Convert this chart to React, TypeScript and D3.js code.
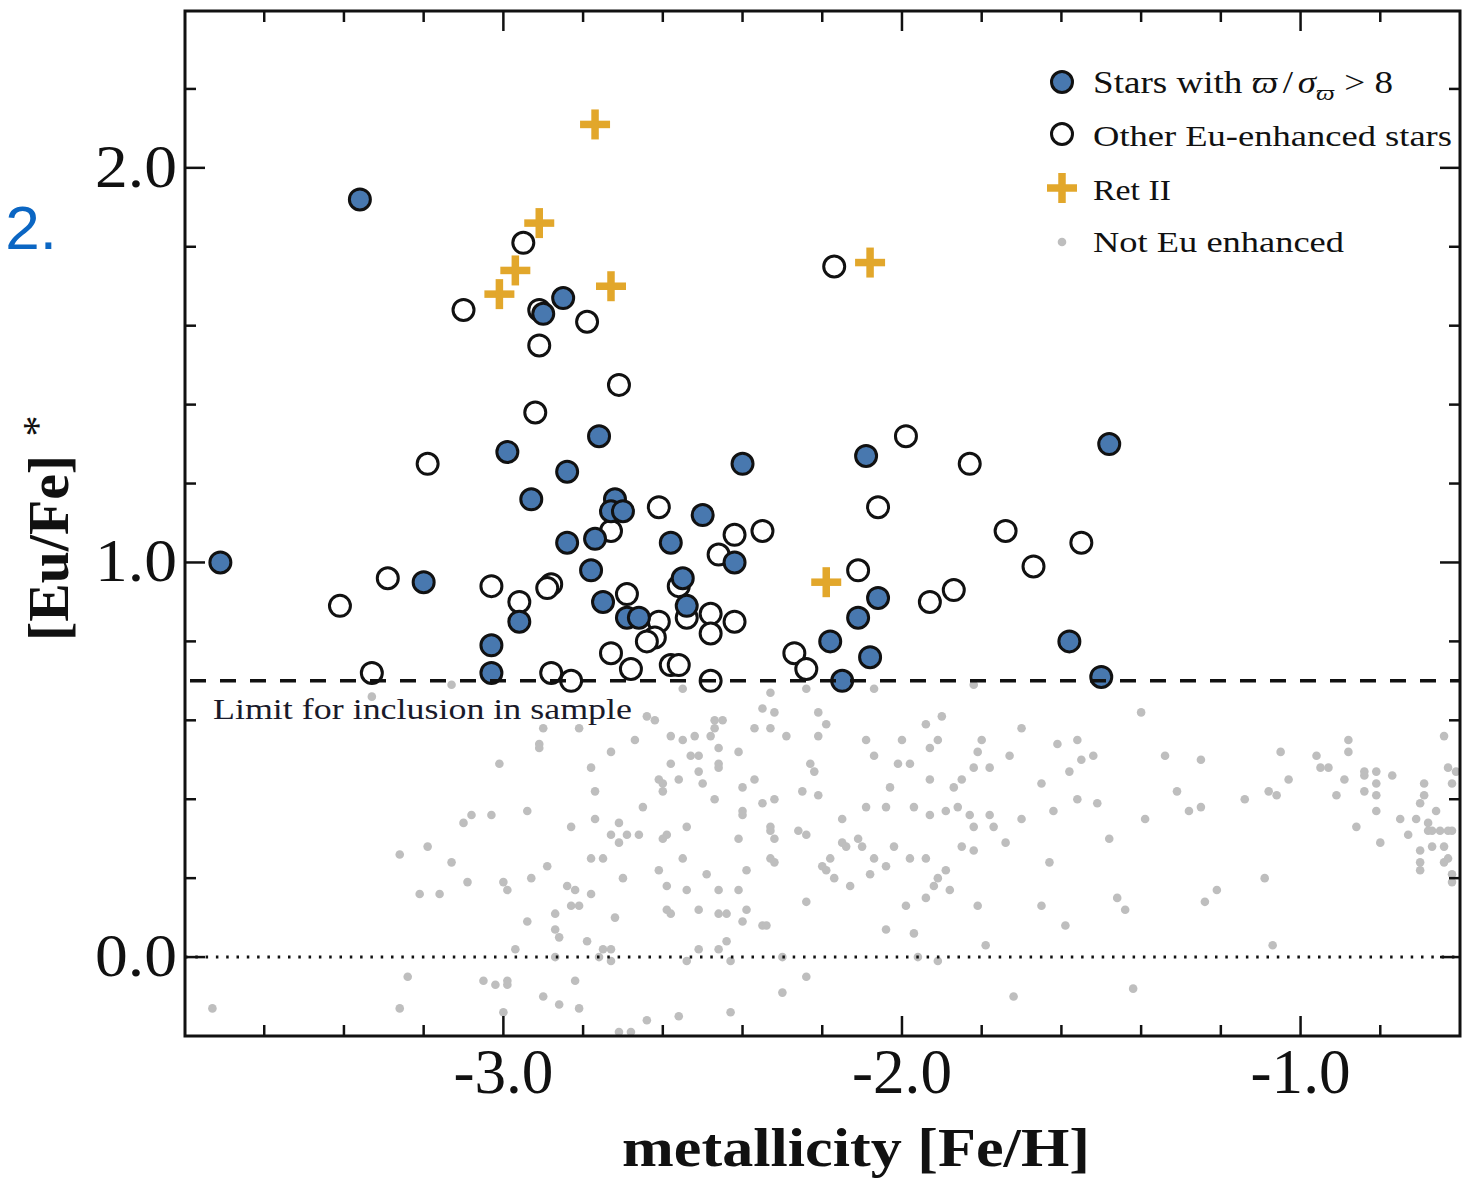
import React, { useEffect } from 'react';
import * as d3 from 'd3';

type Pt = [number, number];

// [Fe/H], [Eu/Fe]*
const blueStars: Pt[] = [
  [-3.71, 1.0], [-3.36, 1.92], [-3.2, 0.95], [-2.99, 1.28], [-2.93, 1.16], [-2.96, 0.85],
  [-3.03, 0.79], [-3.03, 0.72], [-2.9, 1.63], [-2.85, 1.67], [-2.84, 1.23], [-2.84, 1.05],
  [-2.76, 1.32], [-2.77, 1.06], [-2.78, 0.98], [-2.75, 0.9], [-2.72, 1.16], [-2.73, 1.13],
  [-2.7, 1.13], [-2.69, 0.86], [-2.66, 0.86], [-2.58, 1.05], [-2.55, 0.96], [-2.54, 0.89],
  [-2.5, 1.12], [-2.42, 1.0], [-2.4, 1.25], [-2.18, 0.8], [-2.15, 0.7], [-2.11, 0.86],
  [-2.08, 0.76], [-2.09, 1.27], [-2.06, 0.91], [-1.58, 0.8], [-1.5, 0.71], [-1.48, 1.3],
];

const otherStars: Pt[] = [
  [-2.95, 1.81], [-3.1, 1.64], [-2.91, 1.64], [-2.79, 1.61], [-2.91, 1.55], [-2.71, 1.45],
  [-2.92, 1.38], [-3.19, 1.25], [-3.29, 0.96], [-3.41, 0.89], [-3.33, 0.72], [-3.03, 0.94],
  [-2.96, 0.9], [-2.88, 0.945], [-2.89, 0.935], [-2.88, 0.72], [-2.83, 0.7], [-2.73, 1.08],
  [-2.69, 0.92], [-2.73, 0.77], [-2.68, 0.73], [-2.61, 1.14], [-2.61, 0.85], [-2.62, 0.81],
  [-2.64, 0.8], [-2.58, 0.74], [-2.56, 0.74], [-2.56, 0.94], [-2.54, 0.86], [-2.48, 0.87],
  [-2.48, 0.82], [-2.48, 0.7], [-2.46, 1.02], [-2.42, 1.07], [-2.42, 0.85], [-2.35, 1.08],
  [-2.27, 0.77], [-2.24, 0.73], [-2.17, 1.75], [-2.11, 0.98], [-2.06, 1.14], [-1.99, 1.32],
  [-1.93, 0.9], [-1.87, 0.93], [-1.83, 1.25], [-1.74, 1.08], [-1.67, 0.99], [-1.55, 1.05],
];

const retII: Pt[] = [
  [-2.77, 2.11], [-2.91, 1.86], [-2.97, 1.74], [-3.01, 1.68], [-2.73, 1.7], [-2.08, 1.76], [-2.19, 0.95],
];

const notEnhanced: Pt[] = [
  [-3.13, 0.69], [-3.33, 0.66], [-2.9, 0.58], [-2.81, 0.58], [-2.64, 0.61], [-2.62, 0.6],
  [-2.91, 0.54], [-2.91, 0.53], [-2.67, 0.55], [-2.73, 0.52], [-2.58, 0.56], [-3.01, 0.49],
  [-2.78, 0.48], [-2.58, 0.49], [-2.61, 0.45], [-2.6, 0.44], [-2.6, 0.42], [-2.77, 0.42],
  [-2.56, 0.45], [-2.65, 0.38], [-3.08, 0.36], [-3.1, 0.34], [-3.03, 0.36], [-2.94, 0.37],
  [-2.77, 0.35], [-2.83, 0.33], [-2.71, 0.34], [-2.73, 0.31], [-2.71, 0.29], [-2.69, 0.31],
  [-2.66, 0.31], [-2.6, 0.3], [-2.59, 0.31], [-3.19, 0.28], [-3.26, 0.26], [-3.13, 0.24],
  [-2.78, 0.25], [-2.75, 0.25], [-2.89, 0.23], [-2.61, 0.22], [-3.09, 0.19], [-3.0, 0.19],
  [-2.99, 0.17], [-2.93, 0.2], [-2.7, 0.2], [-3.21, 0.16], [-3.16, 0.16], [-2.84, 0.18],
  [-2.82, 0.17], [-2.78, 0.16], [-2.59, 0.18], [-2.83, 0.13], [-2.81, 0.13], [-2.87, 0.11],
  [-2.94, 0.09], [-2.72, 0.1], [-2.59, 0.12], [-2.58, 0.11], [-2.87, 0.07], [-2.86, 0.05],
  [-2.79, 0.04], [-2.97, 0.02], [-2.75, 0.02], [-2.73, 0.02], [-2.73, -0.01], [-2.76, 0.0],
  [-2.87, 0.0], [-3.24, -0.05], [-3.05, -0.06], [-3.02, -0.07], [-2.99, -0.06], [-2.99, -0.07],
  [-2.82, -0.06], [-2.9, -0.1], [-2.86, -0.12], [-2.81, -0.13], [-3.73, -0.13], [-3.26, -0.13],
  [-3.0, -0.14], [-2.64, -0.16], [-2.71, -0.19], [-2.68, -0.19], [-2.56, -0.15],
  [-2.55, 0.68], [-2.24, 0.68], [-2.07, 0.68], [-1.82, 0.69], [-2.33, 0.67], [-2.35, 0.63],
  [-2.32, 0.62], [-2.47, 0.6], [-2.45, 0.6], [-2.21, 0.62], [-2.19, 0.59], [-1.9, 0.61],
  [-1.94, 0.59], [-1.7, 0.58], [-2.37, 0.58], [-2.33, 0.58], [-2.52, 0.56], [-2.55, 0.55],
  [-2.48, 0.56], [-2.47, 0.58], [-2.29, 0.56], [-2.21, 0.56], [-2.09, 0.55], [-2.0, 0.55],
  [-1.91, 0.55], [-1.93, 0.53], [-1.8, 0.55], [-1.81, 0.52], [-1.61, 0.54], [-1.56, 0.55],
  [-2.46, 0.53], [-2.41, 0.52], [-2.07, 0.51], [-1.73, 0.51], [-1.55, 0.5], [-1.52, 0.51],
  [-2.53, 0.51], [-2.51, 0.51], [-2.46, 0.49], [-2.46, 0.48], [-2.23, 0.49], [-2.22, 0.47],
  [-2.01, 0.49], [-1.98, 0.49], [-1.82, 0.48], [-1.78, 0.48], [-2.51, 0.47], [-1.58, 0.47],
  [-2.37, 0.45], [-2.5, 0.44], [-1.93, 0.45], [-1.85, 0.45], [-1.87, 0.43], [-1.65, 0.44],
  [-2.4, 0.43], [-2.03, 0.43], [-2.25, 0.42], [-2.21, 0.41], [-2.47, 0.4], [-1.56, 0.4],
  [-1.51, 0.39], [-2.32, 0.4], [-2.35, 0.39], [-2.09, 0.38], [-2.04, 0.38], [-1.97, 0.38],
  [-2.4, 0.37], [-2.4, 0.36], [-1.89, 0.37], [-1.86, 0.38], [-1.83, 0.36], [-1.78, 0.36],
  [-1.62, 0.37], [-1.93, 0.36], [-1.7, 0.35], [-2.15, 0.35], [-2.54, 0.33], [-2.33, 0.33],
  [-2.33, 0.32], [-2.32, 0.3], [-1.82, 0.33], [-1.77, 0.33], [-2.26, 0.32], [-2.24, 0.31],
  [-2.41, 0.3], [-1.48, 0.3], [-2.15, 0.29], [-2.14, 0.28], [-2.11, 0.3], [-2.1, 0.28],
  [-2.02, 0.28], [-1.85, 0.28], [-1.82, 0.27], [-1.74, 0.29], [-2.55, 0.25], [-2.33, 0.25],
  [-2.32, 0.24], [-2.18, 0.25], [-2.2, 0.23], [-2.19, 0.22], [-2.07, 0.25], [-1.98, 0.25],
  [-1.94, 0.25], [-1.63, 0.24], [-2.39, 0.22], [-2.49, 0.21], [-2.17, 0.2], [-2.08, 0.21],
  [-2.04, 0.23], [-1.89, 0.22], [-1.91, 0.2], [-1.92, 0.18], [-2.13, 0.18], [-2.54, 0.17],
  [-2.46, 0.17], [-2.41, 0.17], [-1.88, 0.17], [-1.94, 0.15], [-1.46, 0.15], [-1.44, 0.12],
  [-2.24, 0.14], [-1.99, 0.13], [-1.81, 0.13], [-1.65, 0.13], [-2.51, 0.12], [-2.46, 0.11],
  [-2.44, 0.11], [-2.39, 0.12], [-2.4, 0.09], [-2.35, 0.08], [-2.34, 0.08], [-1.59, 0.08],
  [-2.04, 0.07], [-1.97, 0.06], [-1.79, 0.03], [-2.44, 0.04], [-2.51, 0.02], [-2.46, 0.02],
  [-2.54, -0.01], [-2.43, -0.01], [-2.3, 0.0], [-1.96, 0.0], [-1.91, -0.01], [-2.24, -0.05],
  [-2.3, -0.09], [-1.72, -0.1], [-1.42, -0.08], [-2.43, -0.14],
  [-1.4, 0.62], [-1.34, 0.51], [-1.25, 0.5], [-1.05, 0.52], [-0.96, 0.51], [-0.95, 0.48],
  [-0.93, 0.48], [-0.88, 0.55], [-0.88, 0.52], [-0.89, 0.45], [-0.84, 0.47], [-0.84, 0.46],
  [-0.81, 0.47], [-0.81, 0.44], [-0.81, 0.41], [-0.81, 0.37], [-0.77, 0.46], [-0.64, 0.56],
  [-0.63, 0.48], [-0.62, 0.44], [-0.61, 0.47], [-1.31, 0.42], [-1.03, 0.45], [-1.08, 0.42],
  [-1.06, 0.41], [-0.91, 0.41], [-0.84, 0.42], [-1.14, 0.4], [-0.69, 0.44], [-0.69, 0.41],
  [-0.7, 0.39], [-1.25, 0.38], [-1.28, 0.37], [-1.39, 0.35], [-0.75, 0.35], [-0.71, 0.35],
  [-0.66, 0.37], [-0.68, 0.34], [-0.68, 0.32], [-0.67, 0.32], [-0.65, 0.32], [-0.63, 0.32],
  [-0.62, 0.32], [-0.86, 0.33], [-0.73, 0.31], [-0.8, 0.29], [-0.7, 0.27], [-0.7, 0.24],
  [-0.7, 0.22], [-0.67, 0.28], [-0.64, 0.28], [-0.64, 0.24], [-0.63, 0.25], [-0.62, 0.21],
  [-0.62, 0.19], [-1.09, 0.2], [-1.21, 0.17], [-1.24, 0.14], [-1.07, 0.03],
];

const xMajorTicks = [-3, -2, -1];
const xTickLabels = ['-3.0', '-2.0', '-1.0'];
const yMajorTicks = [0, 1, 2];
const yTickLabels = ['0.0', '1.0', '2.0'];
const limitValue = 0.7;
const legendLabels = ['Other Eu-enhanced stars', 'Ret II', 'Not Eu enhanced'];

const SERIF = '"Liberation Serif", "DejaVu Serif", serif';
const BLUE = '#4878AF';
const GOLD = '#E2A72B';
const GRAY = '#BEBEBE';

export default function App() {
  useEffect(() => {
    document.body.style.margin = '0';
    document.body.style.overflow = 'hidden';
  }, []);

  const W = 1464;
  const H = 1178;
  const L = 185, R = 1460, T = 11, B = 1036;
  const x = d3.scaleLinear().domain([-3.8, -0.6]).range([184.5, 1460]);
  const y = d3.scaleLinear().domain([-0.2, 2.4]).range([1036, 10]);

  const xMinor = d3.range(-3.6, -0.65, 0.2).filter(v => !xMajorTicks.some(m => Math.abs(m - v) < 1e-6));
  const yMinor = d3.range(0.2, 2.35, 0.2).filter(v => !yMajorTicks.some(m => Math.abs(m - v) < 1e-6));

  const MAJ = 20, MIN = 11;
  const plus = (cx: number, cy: number, h: number, key: string | number) => (
    <g key={key}>
      <line x1={cx - h} x2={cx + h} y1={cy} y2={cy} stroke={GOLD} strokeWidth={7.5} />
      <line x1={cx} x2={cx} y1={cy - h} y2={cy + h} stroke={GOLD} strokeWidth={7.5} />
    </g>
  );

  return (
    <svg width={W} height={H} style={{ position: 'absolute', left: 0, top: 0, background: '#fff', display: 'block' }}>
      <rect x={0} y={0} width={W} height={H} fill="#fff" />
      {/* stray slide text */}
      <text x={57} y={249} textAnchor="end" fontFamily='"Liberation Sans", Arial, sans-serif' fontSize={62} fill="#0B66C3">2.</text>

      <g clipPath="url(#plotclip)">
        <defs>
          <clipPath id="plotclip"><rect x={L} y={T} width={R - L} height={B - T} /></clipPath>
        </defs>
        {notEnhanced.map((d, i) => (
          <circle key={'g' + i} cx={x(d[0])} cy={y(d[1])} r={4.3} fill={GRAY} />
        ))}
        <line x1={L} x2={R} y1={y(0)} y2={y(0)} stroke="#111" strokeWidth={3} strokeDasharray="2.5 7.8" />
        {otherStars.map((d, i) => (
          <circle key={'o' + i} cx={x(d[0])} cy={y(d[1])} r={10.5} fill="#fff" stroke="#111" strokeWidth={3} />
        ))}
        {blueStars.map((d, i) => (
          <circle key={'b' + i} cx={x(d[0])} cy={y(d[1])} r={10.5} fill={BLUE} stroke="#111" strokeWidth={3} />
        ))}
        {retII.map((d, i) => plus(x(d[0]), y(d[1]), 15, 'p' + i))}
        <line x1={L + 5} x2={R} y1={y(limitValue)} y2={y(limitValue)} stroke="#111" strokeWidth={3.5} strokeDasharray="16 14" />
      </g>

      <text x={213} y={719} fontFamily={SERIF} fontSize={29} fill="#1a1a2a" textLength={419} lengthAdjust="spacingAndGlyphs">
        Limit for inclusion in sample
      </text>

      {/* legend */}
      <circle cx={1062} cy={82} r={10.5} fill={BLUE} stroke="#111" strokeWidth={3} />
      <text x={1093} y={93} fontFamily={SERIF} fontSize={31} fill="#111" textLength={300} lengthAdjust="spacingAndGlyphs">
        <tspan>Stars with </tspan>
        <tspan fontStyle="italic">ϖ</tspan>
        <tspan dx={4}>/</tspan>
        <tspan dx={4} fontStyle="italic">σ</tspan>
        <tspan fontStyle="italic" fontSize={22} dy={7}>ϖ</tspan>
        <tspan dy={-7} dx={8}>&gt; 8</tspan>
      </text>
      <circle cx={1062} cy={134} r={10.5} fill="#fff" stroke="#111" strokeWidth={3} />
      <text x={1093} y={146} fontFamily={SERIF} fontSize={30} fill="#111" textLength={359} lengthAdjust="spacingAndGlyphs">{legendLabels[0]}</text>
      {plus(1062, 188, 15, 'legp')}
      <text x={1093} y={200} fontFamily={SERIF} fontSize={30} fill="#111" textLength={78} lengthAdjust="spacingAndGlyphs">{legendLabels[1]}</text>
      <circle cx={1062} cy={242} r={4.3} fill={GRAY} />
      <text x={1093} y={252} fontFamily={SERIF} fontSize={30} fill="#111" textLength={251} lengthAdjust="spacingAndGlyphs">{legendLabels[2]}</text>

      {/* frame */}
      <rect x={L} y={T} width={R - L} height={B - T} fill="none" stroke="#111" strokeWidth={3} />

      {/* x ticks bottom and top */}
      {xMajorTicks.map(v => (
        <g key={'xM' + v}>
          <line x1={x(v)} x2={x(v)} y1={B} y2={B - MAJ} stroke="#111" strokeWidth={2.5} />
          <line x1={x(v)} x2={x(v)} y1={T} y2={T + MAJ} stroke="#111" strokeWidth={2.5} />
        </g>
      ))}
      {xMinor.map(v => (
        <g key={'xm' + v}>
          <line x1={x(v)} x2={x(v)} y1={B} y2={B - MIN} stroke="#111" strokeWidth={2.5} />
          <line x1={x(v)} x2={x(v)} y1={T} y2={T + MIN} stroke="#111" strokeWidth={2.5} />
        </g>
      ))}
      {/* y ticks left and right */}
      {yMajorTicks.map(v => (
        <g key={'yM' + v}>
          <line x1={L} x2={L + MAJ} y1={y(v)} y2={y(v)} stroke="#111" strokeWidth={2.5} />
          <line x1={R} x2={R - MAJ} y1={y(v)} y2={y(v)} stroke="#111" strokeWidth={2.5} />
        </g>
      ))}
      {yMinor.map(v => (
        <g key={'ym' + v}>
          <line x1={L} x2={L + MIN} y1={y(v)} y2={y(v)} stroke="#111" strokeWidth={2.5} />
          <line x1={R} x2={R - MIN} y1={y(v)} y2={y(v)} stroke="#111" strokeWidth={2.5} />
        </g>
      ))}

      {/* tick labels */}
      {xMajorTicks.map((v, i) => (
        <text key={'xl' + v} x={x(v)} y={1093} textAnchor="middle" fontFamily={SERIF} fontSize={64} fill="#111"
          textLength={100} lengthAdjust="spacingAndGlyphs">{xTickLabels[i]}</text>
      ))}
      {yMajorTicks.map((v, i) => (
        <text key={'yl' + v} x={177} y={y(v) + 19} textAnchor="end" fontFamily={SERIF} fontSize={62} fill="#111"
          textLength={82} lengthAdjust="spacingAndGlyphs">{yTickLabels[i]}</text>
      ))}

      {/* axis titles */}
      <text x={856} y={1166} textAnchor="middle" fontFamily={SERIF} fontWeight="bold" fontSize={54} fill="#111"
        textLength={468} lengthAdjust="spacingAndGlyphs">metallicity [Fe/H]</text>
      <g transform="translate(68,548) rotate(-90)">
        <text x={0} y={0} textAnchor="middle" fontFamily={SERIF} fontWeight="bold" fontSize={56} fill="#111"
          textLength={186} lengthAdjust="spacingAndGlyphs">[Eu/Fe]</text>
      </g>
      <g transform="translate(52,426) rotate(-90)">
        <text x={0} y={0} textAnchor="middle" fontFamily={SERIF} fontSize={42} fill="#111">*</text>
      </g>
    </svg>
  );
}
